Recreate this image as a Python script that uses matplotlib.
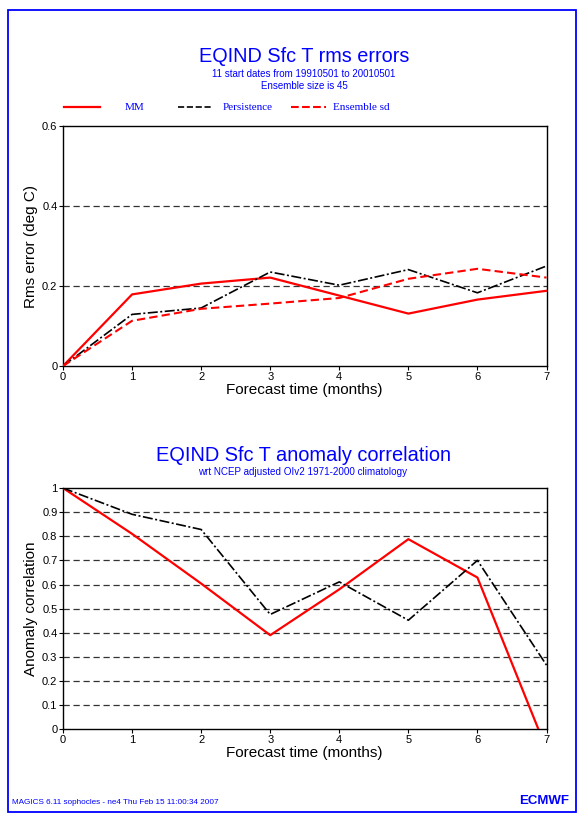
import matplotlib
matplotlib.use("Agg")
import matplotlib.pyplot as plt
from matplotlib.lines import Line2D
from matplotlib.patches import Rectangle

plt.rcParams['font.family'] = ['Liberation Sans', 'DejaVu Sans']

# forecast lead time (months)
months = [0, 1, 2, 3, 4, 5, 6, 7]

# rms errors (deg C)
rms_mm = [0.0, 0.179, 0.206, 0.221, 0.176, 0.131, 0.166, 0.188]
rms_persistence = [0.0, 0.129, 0.145, 0.235, 0.202, 0.241, 0.183, 0.250]
rms_ens_sd = [0.0, 0.113, 0.143, 0.156, 0.170, 0.218, 0.243, 0.221]

# anomaly correlation
acc_mm = [1.0, 0.81, 0.604, 0.39, 0.58, 0.788, 0.629, -0.083]
acc_persistence = [1.0, 0.891, 0.828, 0.476, 0.611, 0.452, 0.70, 0.266]

rms_ticks = [0, 0.2, 0.4, 0.6]
rms_ticklabels = ['0', '0.2', '0.4', '0.6']
acc_ticks = [0, 0.1, 0.2, 0.3, 0.4, 0.5, 0.6, 0.7, 0.8, 0.9, 1.0]
acc_ticklabels = ['0', '0.1', '0.2', '0.3', '0.4', '0.5', '0.6', '0.7', '0.8', '0.9', '1']

BLUE = '#0000ff'
W, H = 577, 821

fig = plt.figure(figsize=(W / 100, H / 100), dpi=100)
fig.patch.set_facecolor('white')


def fx(px):
    return px / W


def fy(py):
    return 1 - py / H


# page frame
fig.patches.append(Rectangle((fx(7.5), fy(811.5)), fx(576) - fx(7.5), fy(10.5) - fy(811.5),
                             transform=fig.transFigure, fill=False, edgecolor=BLUE, lw=1.3))


def style_axes(ax, ticks, ticklabels, ylabel):
    ax.set_xlim(0, 7)
    ax.set_xticks(months)
    ax.set_yticks(ticks)
    ax.set_yticklabels(ticklabels)
    ax.tick_params(labelsize=8, length=3, width=0.8, pad=1)
    for t in ticks[1:-1]:
        ax.axhline(t, color='#333333', lw=0.9, ls=(0, (5, 3)), zorder=1)
    for s in ax.spines.values():
        s.set_linewidth(1.0)
    ax.set_xlabel('Forecast time (months)', fontsize=11, labelpad=1)
    ax.set_ylabel(ylabel, fontsize=11, labelpad=3)


# --- rms errors ---
ax1 = fig.add_axes([fx(63), fy(366), fx(546.5) - fx(63), fy(126) - fy(366)])
l_mm, = ax1.plot(months, rms_mm, color='red', lw=1.6, zorder=3)
l_per, = ax1.plot(months, rms_persistence, color='black', lw=1.2,
                  ls=(0, (6, 1.5, 1.2, 1.5)), zorder=3)
l_ens, = ax1.plot(months, rms_ens_sd, color='red', lw=1.5, ls=(0, (4, 2)), zorder=3)
ax1.set_ylim(0, 0.6)
style_axes(ax1, rms_ticks, rms_ticklabels, 'Rms error (deg C)')

fig.text(fx(304), fy(57), 'EQIND Sfc T rms errors', color=BLUE, fontsize=14.3,
         ha='center', va='center')
fig.text(fx(304), fy(74), '11 start dates from 19910501 to 20010501', color=BLUE,
         fontsize=7, ha='center', va='center')
fig.text(fx(304), fy(86), 'Ensemble size is 45', color=BLUE, fontsize=7,
         ha='center', va='center')

# legend drawn by hand along the top
legend_items = [(l_mm, 'MM', 64, 100, 125), (l_per, 'Persistence', 178, 213, 223),
                (l_ens, 'Ensemble sd', 291, 326, 333)]
for line, label, x0, x1, xt in legend_items:
    fig.add_artist(Line2D([fx(x0), fx(x1)], [fy(107), fy(107)], transform=fig.transFigure,
                          color=line.get_color(), lw=line.get_linewidth(),
                          ls=line.get_linestyle()))
    fig.text(fx(xt), fy(107), label, color=BLUE, fontsize=8, ha='left', va='center',
             family=['Liberation Serif', 'DejaVu Serif'])

# --- anomaly correlation ---
ax2 = fig.add_axes([fx(63), fy(729.3), fx(546.5) - fx(63), fy(488) - fy(729.3)])
ax2.plot(months, acc_mm, color='red', lw=1.6, zorder=3)
ax2.plot(months, acc_persistence, color='black', lw=1.2,
         ls=(0, (6, 1.5, 1.2, 1.5)), zorder=3)
ax2.set_ylim(0, 1)
style_axes(ax2, acc_ticks, acc_ticklabels, 'Anomaly correlation')

fig.text(fx(303), fy(455), 'EQIND Sfc T anomaly correlation', color=BLUE, fontsize=14.4,
         ha='center', va='center')
fig.text(fx(303), fy(472), 'wrt NCEP adjusted OIv2 1971-2000 climatology', color=BLUE,
         fontsize=7.1, ha='center', va='center')

# footer
fig.text(fx(12), fy(802), 'MAGICS 6.11 sophocles - ne4 Thu Feb 15 11:00:34 2007',
         color=BLUE, fontsize=5.9, ha='left', va='center')
fig.text(fx(569), fy(801), 'ECMWF', color=BLUE, fontsize=9.5, fontweight='heavy',
         ha='right', va='center')

fig.savefig('out.png', dpi=100)
